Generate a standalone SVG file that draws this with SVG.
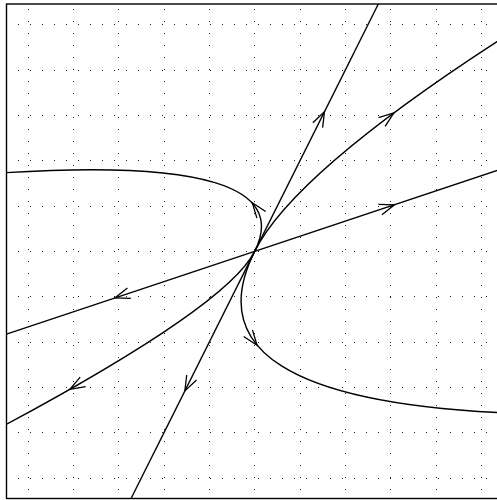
<svg xmlns="http://www.w3.org/2000/svg" width="497" height="500" viewBox="0 0 497 500">
<style>
.grid{stroke:#222;stroke-width:1;stroke-dasharray:1 11;fill:none}
.traj{stroke:#000;stroke-width:1.4;fill:none}
.arrow{stroke:#000;stroke-width:1.3;fill:none;stroke-linejoin:miter}
.frame{stroke:#000;stroke-width:1.4;fill:none}
</style>
<defs>
<clipPath id="plotArea"><rect x="6.5" y="4" width="496.33" height="494.5"/></clipPath>
</defs>
<rect width="497" height="500" fill="#fff"/>
<g id="grid">
<path class="grid" d="M28.5,9V498.5M73.5,9V498.5M118.5,9V498.5M164.5,9V498.5M209.5,9V498.5M254.5,9V498.5M300.5,9V498.5M345.5,9V498.5M390.5,9V498.5M436.5,9V498.5M481.5,9V498.5"/>
<path class="grid" d="M6,24.5H502.8M6,70.5H502.8M6,115.5H502.8M6,160.5H502.8M6,206.5H502.8M6,251.5H502.8M6,296.5H502.8M6,342.5H502.8M6,387.5H502.8M6,432.5H502.8M6,478.5H502.8"/>
</g>
<g id="connectors" clip-path="url(#plotArea)">
<g id="eigen-steep">
<path class="traj" d="M254.67,251.33L378.33,4"/>
<path class="traj" d="M254.67,251.33L131.08,498.5"/>
<polyline class="arrow" points="312.84,122.75 324.46,111.75 322.63,127.64"/>
<polyline class="arrow" points="196.5,379.91 184.88,390.91 186.71,375.02"/>
</g>
<g id="eigen-shallow">
<path class="traj" d="M254.67,251.33L502.83,168.61"/>
<path class="traj" d="M254.67,251.33L6.5,334.06"/>
<polyline class="arrow" points="378.47,204.3 394.46,204.74 381.93,214.69"/>
<polyline class="arrow" points="130.87,298.37 114.88,297.93 127.41,287.98"/>
</g>
<g id="traj-a">
<path class="traj" d="M254.67,251.33Q294.33,172 507.53,34.83"/>
<path class="traj" d="M254.67,251.33Q227.02,306.63 -3.03,429.39"/>
<polyline class="arrow" points="378.56,117.57 393.87,112.93 385.12,126.33"/>
<polyline class="arrow" points="85.63,386.6 69.86,389.31 80.2,377.1"/>
</g>
<g id="traj-b">
<path class="traj" d="M254.67,251.33Q303.85,152.96 -2.72,173.18"/>
<path class="traj" d="M254.67,251.33Q180.78,399.11 508.34,413.07"/>
<polyline class="arrow" points="256.91,218.11 252.27,202.8 265.67,211.55"/>
<polyline class="arrow" points="252.43,329.88 257.07,345.19 243.67,336.44"/>
</g>
</g>
<rect id="frame" class="frame" x="6.5" y="4" width="496.33" height="494.5"/>
</svg>
